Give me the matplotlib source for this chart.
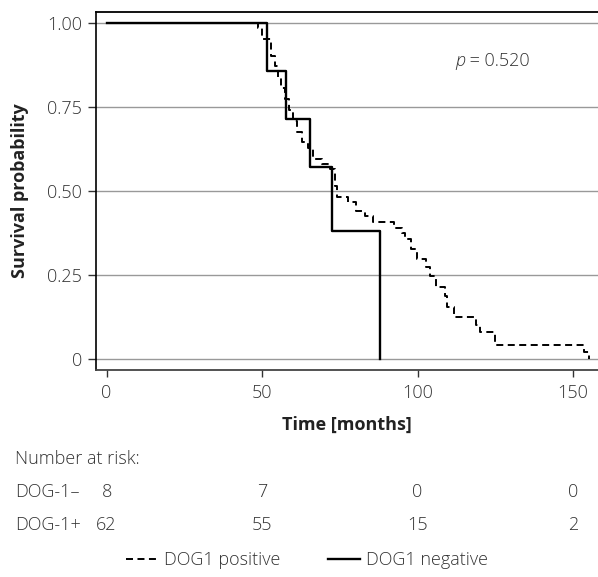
import matplotlib.pyplot as plt
from matplotlib.transforms import blended_transform_factory

plt.rcParams['font.family'] = ['Open Sans', 'DejaVu Sans']

# DOG1 positive (dashed) - event times and survival after each step
pos_time = [0, 48.6, 50.0, 52.8, 54.0, 55.0, 56.0, 57.5, 58.6, 59.9, 61.2, 62.8,
            64.7, 66.3, 69.2, 71.8, 73.4, 74.0, 77.6, 80.1, 83.0, 85.5, 92.4,
            95.0, 96.0, 97.8, 99.8, 102.7, 104.0, 105.9, 108.8, 109.4, 111.7,
            118.8, 120.0, 125.0, 153.5, 155.0]
pos_surv = [1.0, 0.984, 0.952, 0.903, 0.871, 0.839, 0.806, 0.774, 0.742, 0.710,
            0.677, 0.645, 0.629, 0.597, 0.581, 0.565, 0.516, 0.484, 0.468, 0.440,
            0.427, 0.408, 0.390, 0.375, 0.357, 0.327, 0.298, 0.274, 0.247, 0.214,
            0.188, 0.155, 0.125, 0.101, 0.080, 0.042, 0.021, 0.0]

# DOG1 negative (solid)
neg_time = [0, 51.7, 57.8, 65.5, 72.6, 87.9]
neg_surv = [1.0, 0.857, 0.714, 0.571, 0.381, 0.0]

risk_times = [0, 50, 100, 150]
risk_neg = [8, 7, 0, 0]
risk_pos = [62, 55, 15, 2]

W, H = 598, 577
FS = 13
DASH = (0, (3.6, 2.3))
fig = plt.figure(figsize=(W / 100, H / 100), dpi=100)
ax = fig.add_axes([95.7 / W, 1 - 370 / H, 1 - 95.7 / W, (370 - 12.3) / H])

txt = '#333333'

ax.step(pos_time, pos_surv, where='post', color='black', lw=1.4, linestyle=DASH)
ax.step(neg_time, neg_surv, where='post', color='black', lw=1.7)

ax.set_xlim(-3.5, 158.0)
ax.set_ylim(-0.032, 1.032)
ax.set_xticks([0, 50, 100, 150])
ax.set_yticks([0, 0.25, 0.5, 0.75, 1.0])
ax.set_yticklabels(['0', '0.25', '0.50', '0.75', '1.00'])
ax.yaxis.grid(True, color='#999999', lw=1.0)
ax.set_axisbelow(True)

ax.spines['right'].set_visible(False)
ax.spines['top'].set_linewidth(1.3)
ax.spines['left'].set_linewidth(1.2)
ax.spines['bottom'].set_linewidth(1.3)
ax.spines['bottom'].set_color('#444444')

ax.tick_params(axis='y', length=6, width=1, pad=4, labelsize=FS,
               labelcolor=txt, color='#333333')
ax.tick_params(axis='x', length=5, width=1, pad=5, labelsize=FS,
               labelcolor=txt, color='#333333')
for lab in ax.get_xticklabels() + ax.get_yticklabels():
    lab.set_fontweight('light')

fig.text(20 / W, 1 - 191 / H, 'Survival probability', rotation=90,
         ha='center', va='center', fontsize=FS, fontweight='bold', color='#222222')
fig.text(347 / W, 1 - 425 / H, 'Time [months]', ha='center', va='center',
         fontsize=FS, fontweight='bold', color='#222222')

# p value
pt = ax.text(112, 0.887, 'p', style='italic', fontsize=FS, color=txt,
             va='center', ha='left', fontweight='light')
ax.annotate(' = 0.520', xy=(1, 0), xycoords=pt, va='bottom', ha='left',
            fontsize=FS, color=txt, fontweight='light')

# number at risk table
tr = blended_transform_factory(ax.transData, fig.transFigure)
fig.text(15 / W, 1 - 459 / H, 'Number at risk:', ha='left', va='center',
         fontsize=FS, color=txt, fontweight='light')
fig.text(15 / W, 1 - 492 / H, 'DOG-1–', ha='left', va='center',
         fontsize=FS, color=txt, fontweight='light')
fig.text(15 / W, 1 - 525 / H, 'DOG-1+', ha='left', va='center',
         fontsize=FS, color=txt, fontweight='light')
for t, n in zip(risk_times, risk_neg):
    ax.text(t, 1 - 492 / H, str(n), transform=tr, ha='center', va='center',
            fontsize=FS, color=txt, fontweight='light')
for t, n in zip(risk_times, risk_pos):
    ax.text(t, 1 - 525 / H, str(n), transform=tr, ha='center', va='center',
            fontsize=FS, color=txt, fontweight='light')

# legend
h1, = ax.plot([], [], color='black', lw=1.4, linestyle=DASH)
h2, = ax.plot([], [], color='black', lw=1.7)
leg = fig.legend([h1, h2], ['DOG1 positive', 'DOG1 negative'], ncol=2,
                 loc='center', bbox_to_anchor=(307 / W, 1 - 560 / H),
                 frameon=False, fontsize=FS, handlelength=1.8,
                 handletextpad=0.3, columnspacing=2.6)
for t in leg.get_texts():
    t.set_color(txt)
    t.set_fontweight('light')

fig.savefig('out.png', dpi=100)
